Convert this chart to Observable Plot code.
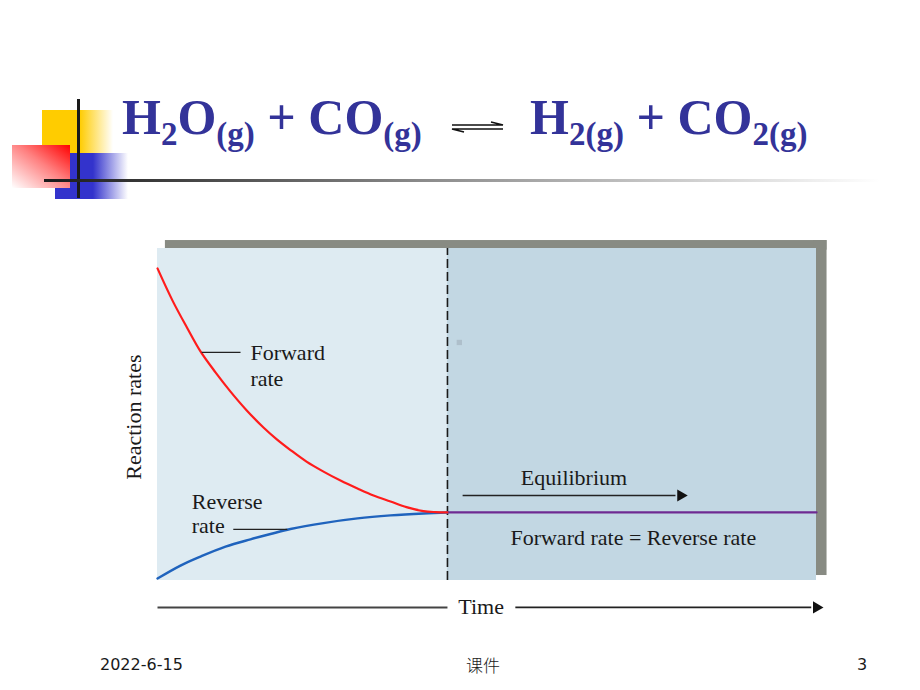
<!DOCTYPE html>
<html>
<head>
<meta charset="utf-8">
<script src="https://cdn.jsdelivr.net/npm/d3@7"></script>
<script src="https://cdn.jsdelivr.net/npm/@observablehq/plot@0.6"></script>
<style>
  html, body { margin: 0; padding: 0; background: #fff; }
  #page { position: relative; width: 920px; height: 690px; overflow: hidden; background: #fff; }
  #chart { position: absolute; left: 0; top: 0; }
  .abs { position: absolute; }
  .title { position: absolute; top: 92px; font-family: "Liberation Serif", "Times New Roman", serif; font-weight: bold;
           font-size: 50px; line-height: 50px; color: #333399; white-space: nowrap; }
  .title .sub { font-size: 33px; vertical-align: -11px; }
  .foot { position: absolute; top: 654px; font-size: 16px; line-height: 22px; color: #1a1a1a; white-space: nowrap; }
</style>
</head>
<body>
<div id="page">
  <div id="chart"></div>
  <!-- slide decoration -->
  <div class="abs" style="left:42px;top:110px;width:71px;height:43px;background:linear-gradient(to right,#ffcc00 0%,#ffcc00 53%,#ffffff 100%)"></div>
  <div class="abs" style="left:55px;top:153px;width:73px;height:46px;background:linear-gradient(to right,#3333cc 0%,#3333cc 52%,#ffffff 100%)"></div>
  <div class="abs" style="left:12px;top:145px;width:58px;height:43px;background:linear-gradient(to top right,#ffffff 0%,#ff8080 55%,#ff0000 100%)"></div>
  <div class="abs" style="left:77px;top:99px;width:3px;height:99px;background:#1a1a1a"></div>
  <div class="abs" style="left:44px;top:179px;width:836px;height:3px;background:linear-gradient(to right,#1a1a1a 0%,#8a8a8a 45%,#ffffff 100%)"></div>
  <!-- title -->
  <div class="title" style="left:122px">H<span class="sub">2</span>O<span class="sub">(g)</span> + CO<span class="sub">(g)</span></div>
  <svg class="abs" style="left:448px;top:117px" width="60" height="20">
    <path d="M4,8 L55,8 L43,5" fill="none" stroke="#111" stroke-width="1.6"/>
    <path d="M55,12 L4,12 L16,15" fill="none" stroke="#111" stroke-width="1.6"/>
  </svg>
  <div class="title" style="left:530px">H<span class="sub">2(g)</span> + CO<span class="sub">2(g)</span></div>
  <!-- footer -->
  <div class="foot" style="left:100px;font-family:'DejaVu Sans',sans-serif">2022-6-15</div>
  <div class="foot" style="left:466px;font-size:17px;font-family:'Noto Sans CJK SC',sans-serif;font-weight:300">课件</div>
  <div class="foot" style="left:857px;font-family:'DejaVu Sans',sans-serif">3</div>
</div>
<script>
// ---- data (time in arbitrary units 0–100, rate in arbitrary units 0–100) ----
const equilibriumTime = 44;
const equilibriumRate = 20.5;

const forwardTime = [0, 2.28, 4.55, 6.52, 8.80, 11.08, 13.51, 16.08, 18.06, 20.18, 22.61, 25.19, 27.77, 30.35, 32.78, 35.36, 37.78, 40.36, 42.19, 44];
const forwardRate = [94.0, 84.3, 75.9, 69.0, 62.7, 56.9, 51.3, 46.1, 42.6, 39.3, 35.8, 32.8, 30.1, 27.7, 25.6, 23.8, 22.1, 20.9, 20.6, 20.5];

const reverseTime = [0, 3.49, 6.52, 10.32, 14.11, 17.15, 20.18, 25.19, 30.35, 35.36, 40.36, 44];
const reverseRate = [0.6, 4.5, 7.2, 10.2, 12.4, 14.0, 15.5, 17.3, 18.7, 19.6, 20.2, 20.5];

const equalTime = [44, 100];
const equalRate = [20.5, 20.5];

const labelTexts = ["Forward", "rate", "Reverse", "rate", "Equilibrium", "Forward rate = Reverse rate", "Time"];
const labelTime  = [14.1, 14.1, 5.2, 5.2, 63.2, 72.2, 49.1];
const labelRate  = [68.4, 60.8, 23.8, 16.3, 31.0, 12.95, -7.83];
const labelAnchor = ["start", "start", "start", "start", "middle", "middle", "middle"];

const yAxisLabel = "Reaction rates";

// ---- tables built from arrays ----
const forward = forwardTime.map((t, i) => ({t, rate: forwardRate[i]}));
const reverse = reverseTime.map((t, i) => ({t, rate: reverseRate[i]}));
const equal = equalTime.map((t, i) => ({t, rate: equalRate[i]}));
const labels = labelTexts.map((text, i) => ({text, t: labelTime[i], rate: labelRate[i], anchor: labelAnchor[i]}));

const regions = [
  {x1: 0, x2: equilibriumTime, fill: "#deebf2"},
  {x1: equilibriumTime, x2: 100, fill: "#c2d7e3"}
];
const shadow = [
  {x1: 1.2, x2: 101.6, y1: 99.5, y2: 102.4},
  {x1: 99.6, x2: 101.6, y1: 1.5, y2: 102.4}
];
const leaders = [
  {x1: 6.7, x2: 12.6, y1: 68.7, y2: 68.7},
  {x1: 11.5, x2: 19.7, y1: 15.4, y2: 15.4}
];
const arrows = [
  {x1: 46.3, x2: 78.6, y1: 25.6, y2: 25.6},
  {x1: 54.3, x2: 99.2, y1: -8.1, y2: -8.1}
];
const arrowHeads = [
  {x: 79.4, y: 25.6},
  {x: 100, y: -8.1}
];
const timeLine = [{x1: 0, x2: equilibriumTime, y1: -8.1, y2: -8.1}];

const serif = "Liberation Serif";
const textStyle = {x: "t", y: "rate", text: "text", fontFamily: serif, fontSize: 22, fill: "#1a1a1a", lineAnchor: "middle"};

const chart = Plot.plot({
  width: 920,
  height: 690,
  marginLeft: 157,
  marginRight: 104,
  marginTop: 248,
  marginBottom: 110,
  x: {domain: [0, 100], axis: null},
  y: {domain: [0, 100], axis: null},
  style: {background: "transparent", overflow: "visible"},
  marks: [
    Plot.rect(shadow, {x1: "x1", x2: "x2", y1: "y1", y2: "y2", fill: "#888b83", ariaDescription: "shadow"}),
    Plot.rect(regions, {x1: "x1", x2: "x2", y1: 0, y2: 100, fill: "fill"}),
    Plot.dot([{x: 45.8, y: 71.7}], {x: "x", y: "y", symbol: "square", r: 3, fill: "#aebfcb"}),
    Plot.ruleX([equilibriumTime], {y1: 0, y2: 100, stroke: "#1a1a1a", strokeWidth: 1.6, strokeDasharray: "9,4"}),
    Plot.line(equal, {x: "t", y: "rate", stroke: "#6e2a92", strokeWidth: 2.2}),
    Plot.line(reverse, {x: "t", y: "rate", stroke: "#1f63bd", strokeWidth: 2.4, curve: "catmull-rom"}),
    Plot.line(forward, {x: "t", y: "rate", stroke: "#ff1c1c", strokeWidth: 2.2, curve: "catmull-rom"}),
    Plot.link(leaders, {x1: "x1", x2: "x2", y1: "y1", y2: "y2", stroke: "#222", strokeWidth: 1.4}),
    Plot.link(arrows, {x1: "x1", x2: "x2", y1: "y1", y2: "y2", stroke: "#222", strokeWidth: 1.6}),
    Plot.link(timeLine, {x1: "x1", x2: "x2", y1: "y1", y2: "y2", stroke: "#444", strokeWidth: 2}),
    Plot.dot(arrowHeads, {x: "x", y: "y", symbol: "triangle", rotate: 90, r: 4.5, fill: "#111", stroke: "none"}),
    Plot.text(labels, {...textStyle, filter: d => d.anchor === "start", textAnchor: "start"}),
    Plot.text(labels, {...textStyle, filter: d => d.anchor === "middle", textAnchor: "middle"}),
    Plot.text([yAxisLabel], {x: -3.57, y: 49.2, text: d => d, rotate: -90, fontFamily: serif, fontSize: 22, fill: "#1a1a1a"})
  ]
});
document.getElementById("chart").appendChild(chart);

// soft blur for the panel's drop shadow (filter region covers the whole svg)
const svg = d3.select(chart);
const defs = svg.insert("defs", ":first-child");
defs.append("filter").attr("id", "softShadow").attr("filterUnits", "userSpaceOnUse")
  .attr("x", 0).attr("y", 0).attr("width", 920).attr("height", 690)
  .append("feGaussianBlur").attr("stdDeviation", 2);
svg.selectAll("rect").filter(function () { return this.getAttribute("fill") === "#888b83"; })
  .attr("filter", "url(#softShadow)");
</script>
</body>
</html>
